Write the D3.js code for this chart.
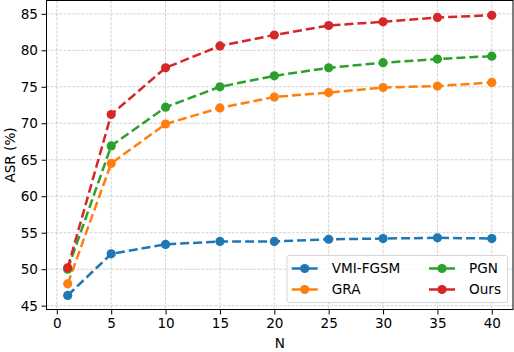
<!DOCTYPE html>
<html>
<head>
<meta charset="utf-8">
<script src="https://cdn.jsdelivr.net/npm/d3@7.9.0/dist/d3.min.js"></script>
<style>
  body { margin: 0; background: #fff; }
  svg { display: block; font-family: "DejaVu Sans", sans-serif; }
</style>
</head>
<body>
<div id="chart"></div>
<script>
// Values
const nValues = [1, 5, 10, 15, 20, 25, 30, 35, 40];
const vmiFgsm = [46.4, 52.1, 53.4, 53.8, 53.8, 54.1, 54.2, 54.3, 54.2];
const gra = [48.0, 64.5, 69.9, 72.1, 73.6, 74.2, 74.9, 75.1, 75.6];
const pgn = [50.0, 66.9, 72.2, 75.0, 76.5, 77.6, 78.3, 78.8, 79.2];
const ours = [50.2, 71.2, 77.6, 80.6, 82.1, 83.4, 83.9, 84.5, 84.8];
const seriesNames = ["VMI-FGSM", "GRA", "PGN", "Ours"];
const xTicks = [0, 5, 10, 15, 20, 25, 30, 35, 40];
const yTicks = [45, 50, 55, 60, 65, 70, 75, 80, 85];

const colors = ["#1f77b4", "#ff7f0e", "#2ca02c", "#d62728"];
const series = [vmiFgsm, gra, pgn, ours].map((vals, i) => ({
    name: seriesNames[i],
    color: colors[i],
    points: vals.map((v, j) => ({ n: nValues[j], v }))
}));

const width = 514, height = 352;
const area = { left: 46.5, right: 513, top: 0.5, bottom: 309.5 };
const fontSize = 13.6;

const svg = d3.select("#chart").append("svg")
    .attr("width", width).attr("height", height);

const x = d3.scaleLinear().domain([-0.95, 41.95]).range([area.left, area.right]);
const y = d3.scaleLinear().domain([44.475, 86.825]).range([area.bottom, area.top]);

// grid
const grid = svg.append("g");
grid.selectAll(".gx").data(xTicks).join("line")
    .attr("x1", d => x(d)).attr("x2", d => x(d))
    .attr("y1", area.top).attr("y2", area.bottom)
    .attr("stroke", "#b0b0b0").attr("stroke-opacity", 0.7)
    .attr("stroke-width", 0.8).attr("stroke-dasharray", "3,1.3");
grid.selectAll(".gy").data(yTicks).join("line")
    .attr("y1", d => y(d)).attr("y2", d => y(d))
    .attr("x1", area.left).attr("x2", area.right)
    .attr("stroke", "#b0b0b0").attr("stroke-opacity", 0.7)
    .attr("stroke-width", 0.8).attr("stroke-dasharray", "3,1.3");

// lines and markers
const line = d3.line().x(d => x(d.n)).y(d => y(d.v));
series.forEach(s => {
    svg.append("path")
        .datum(s.points)
        .attr("d", line)
        .attr("fill", "none")
        .attr("stroke", s.color)
        .attr("stroke-width", 2.5)
        .attr("stroke-dasharray", "9,4");
    svg.append("g").selectAll("circle")
        .data(s.points)
        .join("circle")
        .attr("cx", d => x(d.n))
        .attr("cy", d => y(d.v))
        .attr("r", 4.6)
        .attr("fill", s.color);
});

// axes
const xAxis = d3.axisBottom(x).tickValues(xTicks).tickSize(5).tickPadding(4);
const yAxis = d3.axisLeft(y).tickValues(yTicks).tickSize(5).tickPadding(3.5);

const gx = svg.append("g")
    .attr("transform", `translate(0,${area.bottom})`)
    .call(xAxis);
const gy = svg.append("g")
    .attr("transform", `translate(${area.left},0)`)
    .call(yAxis);
[gx, gy].forEach(g => {
    g.select(".domain").remove();
    g.selectAll("text").attr("font-size", fontSize).attr("fill", "#000")
        .attr("font-family", "DejaVu Sans, sans-serif");
    g.selectAll("line").attr("stroke", "#000").attr("stroke-width", 1);
});

// frame
svg.append("rect")
    .attr("x", area.left).attr("y", area.top)
    .attr("width", area.right - area.left)
    .attr("height", area.bottom - area.top)
    .attr("fill", "none").attr("stroke", "#000").attr("stroke-width", 1);

svg.append("text")
    .attr("x", (area.left + area.right) / 2)
    .attr("y", 348)
    .attr("text-anchor", "middle")
    .attr("font-size", fontSize)
    .text("N");
svg.append("text")
    .attr("transform", `translate(15,${(area.top + area.bottom) / 2}) rotate(-90)`)
    .attr("text-anchor", "middle")
    .attr("font-size", fontSize)
    .text("ASR (%)");

// legend
const legend = svg.append("g").attr("transform", "translate(287,255.5)");
legend.append("rect")
    .attr("width", 220.5).attr("height", 47).attr("rx", 2)
    .attr("fill", "#fff").attr("fill-opacity", 0.8)
    .attr("stroke", "#ccc").attr("stroke-width", 0.8);
series.forEach((s, i) => {
    const col = i < 2 ? 0 : 1;
    const row = i % 2;
    const gx0 = 4.7 + col * 137.3;
    const gy0 = 13 + row * 21;
    const item = legend.append("g").attr("transform", `translate(${gx0},${gy0})`);
    item.append("line").attr("x1", 0).attr("x2", 26)
        .attr("stroke", s.color).attr("stroke-width", 2.5);
    item.append("circle").attr("cx", 13).attr("r", 4.6).attr("fill", s.color);
    item.append("text").attr("x", 40).attr("dy", "0.36em")
        .attr("font-size", fontSize).text(s.name);
});
</script>
</body>
</html>
